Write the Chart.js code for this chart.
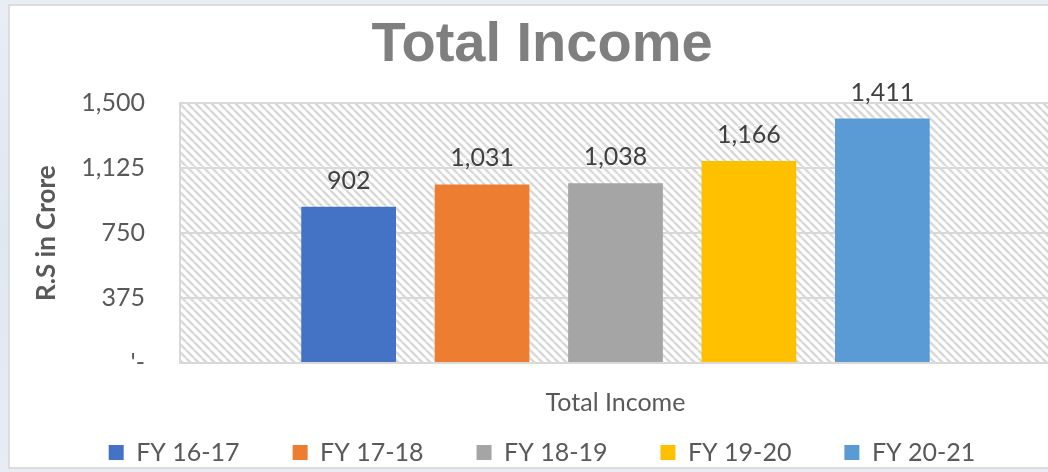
<!DOCTYPE html>
<html><head><meta charset="utf-8">
<script src="https://cdn.jsdelivr.net/npm/chart.js@4/dist/chart.umd.min.js"></script>
<style>
html,body{margin:0;padding:0;width:1048px;height:472px;overflow:hidden;}
body{background:linear-gradient(180deg,#e9eef5 0%,#dfe7f1 50%,#e8edf4 100%);position:relative;}
#frame{position:absolute;left:8px;top:4px;width:1080px;height:461px;border:2px solid #dcdcdc;background:#fff;}
#wrap{position:absolute;left:10px;top:6px;width:1064px;height:469px;}
</style></head><body>
<div id="frame"></div>
<div id="wrap"><canvas id="c"></canvas></div>
<script>
const categories = ["Total Income"];
const seriesNames = ["FY 16-17", "FY 17-18", "FY 18-19", "FY 19-20", "FY 20-21"];
const seriesValues = [[902], [1031], [1038], [1166], [1411]];
const seriesColors = ["#4472C4", "#ED7D31", "#A5A5A5", "#FFC000", "#5B9BD5"];
const yTickValues = [0, 375, 750, 1125, 1500];
const yTickLabels = ["'-", "375", "750", "1,125", "1,500"];
const chartTitle = "Total Income";
const yAxisTitle = "R.S in Crore";

function makeHatch() {
  const t = document.createElement('canvas');
  t.width = 8; t.height = 8;
  const g = t.getContext('2d');
  g.fillStyle = '#ffffff'; g.fillRect(0, 0, 8, 8);
  g.strokeStyle = '#d9d9d9'; g.lineWidth = 2.5;
  for (const k of [-8, 0, 8]) {
    g.beginPath(); g.moveTo(k, 0); g.lineTo(k + 8, 8); g.stroke();
  }
  return t;
}

const hatchPlugin = {
  id: 'hatch',
  beforeDraw(chart) {
    const {ctx, chartArea: a} = chart;
    ctx.save();
    ctx.fillStyle = ctx.createPattern(makeHatch(), 'repeat');
    ctx.fillRect(a.left, a.top, a.right - a.left, a.bottom - a.top);
    ctx.restore();
  }
};

const labelPlugin = {
  id: 'valueLabels',
  afterDatasetsDraw(chart) {
    const ctx = chart.ctx;
    ctx.save();
    ctx.font = '25px Lato';
    ctx.fillStyle = '#404040';
    ctx.textAlign = 'center';
    ctx.textBaseline = 'middle';
    chart.data.datasets.forEach((ds, i) => {
      chart.getDatasetMeta(i).data.forEach((el, j) => {
        ctx.fillText(Number(ds.data[j]).toLocaleString('en-US'), el.x, el.y - 26);
      });
    });
    ctx.restore();
  }
};

new Chart(document.getElementById('c'), {
  type: 'bar',
  data: {
    labels: categories,
    datasets: seriesNames.map((n, i) => ({
      label: n,
      data: seriesValues[i],
      backgroundColor: seriesColors[i],
      categoryPercentage: 0.766,
      barPercentage: 0.71
    }))
  },
  options: {
    responsive: true,
    maintainAspectRatio: false,
    animation: false,
    layout: {padding: {left: 23, right: 23, top: 0, bottom: 0}},
    plugins: {
      title: {
        display: true, text: chartTitle, color: '#7f7f7f',
        font: {family: '"Liberation Sans", Arial', size: 56, weight: 'bold', lineHeight: 1.2},
        padding: {top: 6, bottom: 24}
      },
      legend: {
        position: 'bottom',
        labels: {
          color: '#595959', font: {family: 'Lato', size: 25},
          boxWidth: 15, boxHeight: 15, padding: 53
        }
      },
      tooltip: {enabled: false}
    },
    scales: {
      x: {
        grid: {display: false},
        border: {display: true, color: '#d9d9d9', width: 2},
        ticks: {display: false},
        title: {
          display: true, text: categories[0], color: '#595959',
          font: {family: 'Lato', size: 25, lineHeight: 1.2},
          padding: {top: 0, bottom: -31}
        },
        afterFit(s) { s.height = 24; }
      },
      y: {
        min: 0, max: 1500,
        afterBuildTicks(s) { s.ticks = yTickValues.map(v => ({value: v})); },
        grid: {color: '#d9d9d9', lineWidth: 2, drawTicks: false},
        border: {display: true, color: '#d9d9d9', width: 2},
        ticks: {
          color: '#595959', font: {family: 'Lato', size: 25}, padding: 35,
          callback(v) { const i = yTickValues.indexOf(v); return i >= 0 ? yTickLabels[i] : ''; }
        },
        title: {
          display: true, text: yAxisTitle, color: '#595959',
          font: {family: 'Lato', size: 26, weight: 'bold', lineHeight: 1.0},
          padding: {top: 1, bottom: 0}
        },
        afterFit(s) { s.width = 147; }
      }
    }
  },
  plugins: [hatchPlugin, labelPlugin]
});
</script>
</body></html>
